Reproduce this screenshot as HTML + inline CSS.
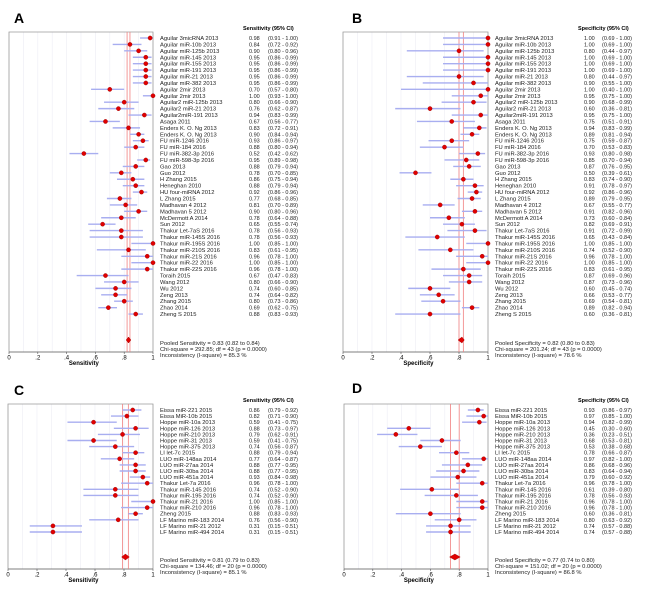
<!DOCTYPE html>
<html><head><meta charset="utf-8"><style>
body{margin:0;background:#fff;}
svg{display:block;font-family:"Liberation Sans",sans-serif;}
</style></head><body>
<svg id="fig" width="650" height="590" xmlns="http://www.w3.org/2000/svg"></svg>
<script>
const namesAB=["Aguilar 3micRNA 2013","Aguilar miR-10b 2013","Aguilar miR-125b 2013","Aguilar miR-145 2013","Aguilar miR-155 2013","Aguilar miR-191 2013","Aguilar miR-21 2013","Aguilar miR-382 2013","Aguilar 2mir 2013","Aguilar 2mir 2013","Aguilar2 miR-125b 2013","Aguilar2 miR-21 2013","Aguilar2miR-191 2013","Asaga 2011","Enders K. O. Ng 2013","Enders K. O. Ng 2013","FU miR-1246 2016","FU miR-184 2016","FU miR-382-3p 2016","FU miR-598-3p 2016","Gao 2013","Guo 2012","H Zhang 2015","Heneghan 2010","HU four-miRNA 2012","L Zhang 2015","Madhavan 4 2012","Madhavan 5 2012","McDermott A 2014","Sun 2012","Thakur Let-7aS 2016","Thakur miR-145S 2016","Thakur miR-195S 2016","Thakur miR-210S 2016","Thakur miR-21S 2016","Thakur miR-22 2016","Thakur miR-22S 2016","Toraih 2015","Wang 2012","Wu 2012","Zeng 2013","Zhang 2015","Zhao 2014","Zheng S 2015"];
const sensA=[.98,.84,.90,.95,.95,.95,.95,.95,.70,1.00,.80,.76,.94,.67,.83,.90,.93,.88,.52,.95,.88,.78,.86,.88,.92,.77,.81,.90,.78,.65,.78,.78,1.00,.83,.96,1.00,.96,.67,.80,.74,.74,.80,.69,.88];
const loA=[.91,.72,.80,.86,.86,.86,.86,.86,.57,.93,.66,.62,.83,.56,.72,.84,.86,.80,.42,.89,.79,.70,.75,.79,.86,.68,.70,.80,.64,.55,.56,.56,.85,.61,.78,.85,.78,.47,.66,.60,.64,.73,.62,.83];
const hiA=[1.00,.92,.96,.99,.99,.99,.99,.99,.80,1.00,.90,.87,.99,.77,.91,.94,.97,.94,.62,.98,.94,.85,.94,.94,.96,.85,.89,.96,.88,.74,.93,.93,1.00,.95,1.00,1.00,1.00,.83,.90,.85,.82,.86,.75,.93];
const specB=[1.00,1.00,.80,1.00,1.00,1.00,.80,.90,1.00,.95,.90,.60,.95,.75,.94,.89,.75,.70,.93,.85,.87,.50,.83,.91,.92,.89,.67,.91,.73,.82,.91,.65,1.00,.74,.96,1.00,.83,.87,.87,.60,.66,.69,.89,.60];
const loB=[.69,.69,.44,.69,.69,.69,.44,.55,.40,.75,.68,.36,.75,.51,.83,.81,.59,.53,.80,.70,.76,.39,.74,.78,.86,.79,.55,.82,.60,.69,.72,.43,.85,.52,.78,.85,.61,.69,.73,.45,.53,.54,.82,.36];
const hiB=[1.00,1.00,.97,1.00,1.00,1.00,.97,1.00,1.00,1.00,.99,.81,1.00,.91,.99,.94,.87,.83,.98,.94,.95,.61,.90,.97,.96,.95,.77,.96,.84,.91,.99,.84,1.00,.90,1.00,1.00,.95,.96,.96,.74,.77,.81,.94,.81];
const namesCD=["Eissa miR-221 2015","Eissa MiR-10b 2015","Hoppe miR-10a 2013","Hoppe miR-126 2013","Hoppe miR-210 2013","Hoppe miR-31 2013","Hoppe miR-375 2013","LI let-7c 2015","LUO miR-148aa 2014","LUO miR-27aa 2014","LUO miR-30ba 2014","LUO miR-451a 2014","Thakur Let-7a 2016","Thakur miR-145 2016","Thakur miR-195 2016","Thakur miR-21 2016","Thakur miR-210 2016","Zheng 2015","LF Marino miR-183 2014","LF Marino miR-21 2012","LF Marino miR-494 2014"];
const sensC=[.86,.82,.59,.88,.79,.59,.74,.88,.77,.88,.88,.93,.96,.74,.74,1.00,.96,.88,.76,.31,.31];
const loC=[.79,.71,.41,.73,.62,.41,.56,.79,.64,.77,.77,.84,.78,.52,.52,.85,.78,.83,.56,.15,.15];
const hiC=[.92,.90,.75,.97,.91,.75,.87,.94,.87,.95,.95,.98,1.00,.90,.90,1.00,1.00,.93,.90,.51,.51];
const specD=[.93,.97,.94,.45,.36,.68,.53,.78,.97,.86,.83,.79,.96,.61,.78,.96,.96,.60,.80,.74,.74];
const loD=[.86,.85,.82,.30,.23,.53,.38,.66,.82,.68,.64,.60,.78,.39,.56,.78,.78,.36,.63,.57,.57];
const hiD=[.97,1.00,.99,.60,.51,.81,.68,.87,1.00,.96,.94,.92,1.00,.80,.93,1.00,1.00,.81,.92,.88,.88];
const pooled=[0.83,0.82,0.81,0.77];
const pooledLo=[0.82,0.80,0.79,0.74];
const pooledHi=[0.84,0.83,0.83,0.80];
const chiSq=["292.85","201.24","134.46","151.02"];
const dfs=["43","43","20","20"];
const iSq=["85.3","78.6","85.1","86.8"];
const ticks=[0,.2,.4,.6,.8,1];
const tickLabels=["0",".2",".4",".6",".8","1"];

const NS="http://www.w3.org/2000/svg";
const svg=document.getElementById('fig');
function mk(t,a,p){const e=document.createElementNS(NS,t);for(const k in a)e.setAttribute(k,a[k]);(p||svg).appendChild(e);return e;}
function f2(v){return v.toFixed(2);}
const panels=[
 {L:"A",names:namesAB,v:sensA,lo:loA,hi:hiA,m:"Sensitivity",x0:9,x1:153,top:32,bot:352,y0:38,dy:6.42,py:340,lx:160,vx:249,cx:268,lX:14,lY:23},
 {L:"B",names:namesAB,v:specB,lo:loB,hi:hiB,m:"Specificity",x0:343,x1:488,top:32,bot:352,y0:38,dy:6.42,py:340,lx:495,vx:584,cx:602,lX:352,lY:23},
 {L:"C",names:namesCD,v:sensC,lo:loC,hi:hiC,m:"Sensitivity",x0:8,x1:153,top:404,bot:569,y0:410,dy:6.1,py:557,lx:160,vx:249,cx:268,lX:14,lY:395},
 {L:"D",names:namesCD,v:specD,lo:loD,hi:hiD,m:"Specificity",x0:344,x1:488,top:404,bot:569,y0:410,dy:6.1,py:557,lx:495,vx:584,cx:602,lX:352,lY:393}
];
panels.forEach((P,pi)=>{
 const g=mk('g',{});
 
 
 const X=v=>P.x0+v*(P.x1-P.x0);
 const Y=i=>P.y0+i*P.dy;
 const letter=mk('text',{x:P.lX,y:P.lY,'font-size':14,'font-weight':'bold'},g);letter.textContent=P.L;
 
 for(let k=1;k<10;k++) mk('line',{x1:X(k/10),x2:X(k/10),y1:P.top,y2:P.bot,stroke:'#ececf4','stroke-width':0.6},g);
 const box=mk('path',{d:`M${P.x0},${P.bot}V${P.top}H${P.x1}V${P.bot}`,fill:'none',stroke:'#9a9a9a','stroke-width':0.8},g);
 
 mk('line',{x1:P.x0,x2:P.x1,y1:P.bot,y2:P.bot,stroke:'#555','stroke-width':0.8},g);
 ticks.forEach((t,i)=>{mk('line',{x1:X(t),x2:X(t),y1:P.bot,y2:P.bot+2,stroke:'#555','stroke-width':0.6},g);
  const tl=mk('text',{x:X(t),y:P.bot+7.5,'font-size':6,'text-anchor':'middle'},g);tl.textContent=tickLabels[i];
  });
 const at=mk('text',{x:X(0.52),y:P.bot+13,'font-size':6,'font-weight':'bold','text-anchor':'middle'},g);at.textContent=P.m;
 
 [pooledLo[pi],pooledHi[pi]].forEach(v=>{const rl=mk('line',{x1:X(v),x2:X(v),y1:P.top,y2:P.bot,stroke:'#f08080','stroke-width':0.8},g);
  });
 const hd=mk('text',{x:P.vx-6,y:P.top-2,'font-size':5.5,'font-weight':'bold'},g);hd.textContent=P.m+" (95% CI)";
 
 P.v.forEach((v,i)=>{
  const y=Y(i);
  const ci=mk('line',{x1:X(P.lo[i]),x2:X(P.hi[i]),y1:y,y2:y,stroke:'#a8aef0','stroke-width':1.4},g);
  
  const pt=mk('circle',{cx:X(v),cy:y,r:2.1,fill:'#e00000',stroke:'#900','stroke-width':0.4},g);
  
  const nl=mk('text',{x:P.lx,y:y+2,'font-size':5.8,fill:'#222'},g);nl.textContent=P.names[i];
  
  const vl=mk('text',{x:P.vx,y:y+2,'font-size':5.5,fill:'#222'},g);vl.textContent=f2(v);
  
  const cl=mk('text',{x:P.cx,y:y+2,'font-size':5.5,fill:'#222'},g);cl.textContent="("+f2(P.lo[i])+" - "+f2(P.hi[i])+")";
  
 });
 const px=X(pooled[pi]);
 const dm=mk('path',{d:`M${X(pooledLo[pi])-1},${P.py}L${px},${P.py-3}L${X(pooledHi[pi])+1},${P.py}L${px},${P.py+3}Z`,fill:'#e00000',stroke:'#900','stroke-width':0.4},g);
 
 const lines=["Pooled "+P.m+" = "+f2(pooled[pi])+" ("+f2(pooledLo[pi])+" to "+f2(pooledHi[pi])+")",
  "Chi-square = "+chiSq[pi]+"; df =  "+dfs[pi]+" (p = 0.0000)",
  "Inconsistency (I-square) = "+iSq[pi]+" %"];
 lines.forEach((s,k)=>{const t=mk('text',{x:P.lx,y:P.py+5+k*6,'font-size':5.8,fill:'#222'},g);t.textContent=s;
  });
});
</script>
</body></html>
